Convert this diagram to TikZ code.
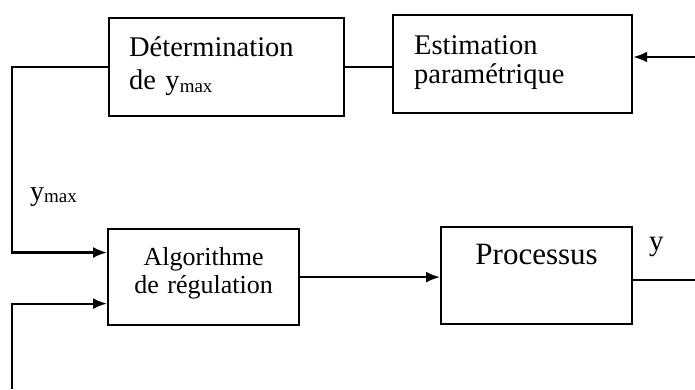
\documentclass[tikz,border=0pt]{standalone}
\usepackage{fontspec}
\setmainfont{Liberation Serif}
\usetikzlibrary{arrows.meta,calc}
\begin{document}
\begin{tikzpicture}[x=1pt,y=-1pt,
  blk/.style={draw, line width=2.2pt, inner ysep=0pt, anchor=north west},
  conn/.style={line width=2.2pt},
  arr/.style={conn, -{Latex[length=14pt,width=11pt]}},
  lbl/.style={inner sep=0pt, anchor=base west}]
\useasboundingbox[fill=white] (0,0) rectangle (695,389);
\node[blk, inner xsep=20pt, text width=195pt, align=left, text height=38pt, text depth=60pt,
  font=\fontsize{28.5}{33}\selectfont] (det) at (108,17)
  {Détermination\\de y\raisebox{-0.25ex}{\fontsize{19}{19}\selectfont max}};
\node[blk, inner xsep=21pt, text width=197pt, align=left, text height=39pt, text depth=59pt,
  font=\fontsize{28.5}{29}\selectfont] (est) at (392,14)
  {Estimation\\paramétrique};
\node[blk, inner xsep=0pt, text width=191pt, align=center, text height=36pt, text depth=60pt,
  font=\fontsize{26}{28}\selectfont] (alg) at (107,228)
  {Algorithme\\de régulation};
\node[blk, inner xsep=0pt, text width=191pt, align=center, text height=37pt, text depth=60pt,
  font=\fontsize{31}{33}\selectfont] (proc) at (440,226)
  {Processus};
\coordinate (in1) at ($(alg.north west)!0.25!(alg.south west)$);
\coordinate (in2) at ($(alg.north west)!0.77!(alg.south west)$);
\coordinate (fbin) at (12,389);
\coordinate (estin) at (695,57);
\coordinate (out) at (695,280);
\draw[conn] (est.west |- det.east) -- (det.east);
\draw[arr] (det.west) -| (12,150) |- (in1);
\draw[arr] (fbin) |- (in2);
\draw[arr] (alg.east) -- (alg.east -| proc.west);
\draw[conn] (proc.east |- out) -- (out);
\draw[arr] (estin) -- (estin -| est.east);
\node[lbl, font=\fontsize{28}{30}\selectfont] (ymax) at (30,200) {y\raisebox{-0.2ex}{\fontsize{19}{19}\selectfont max}};
\node[lbl, font=\fontsize{29}{30}\selectfont] (ylab) at (649,250) {y};
\end{tikzpicture}
\end{document}
